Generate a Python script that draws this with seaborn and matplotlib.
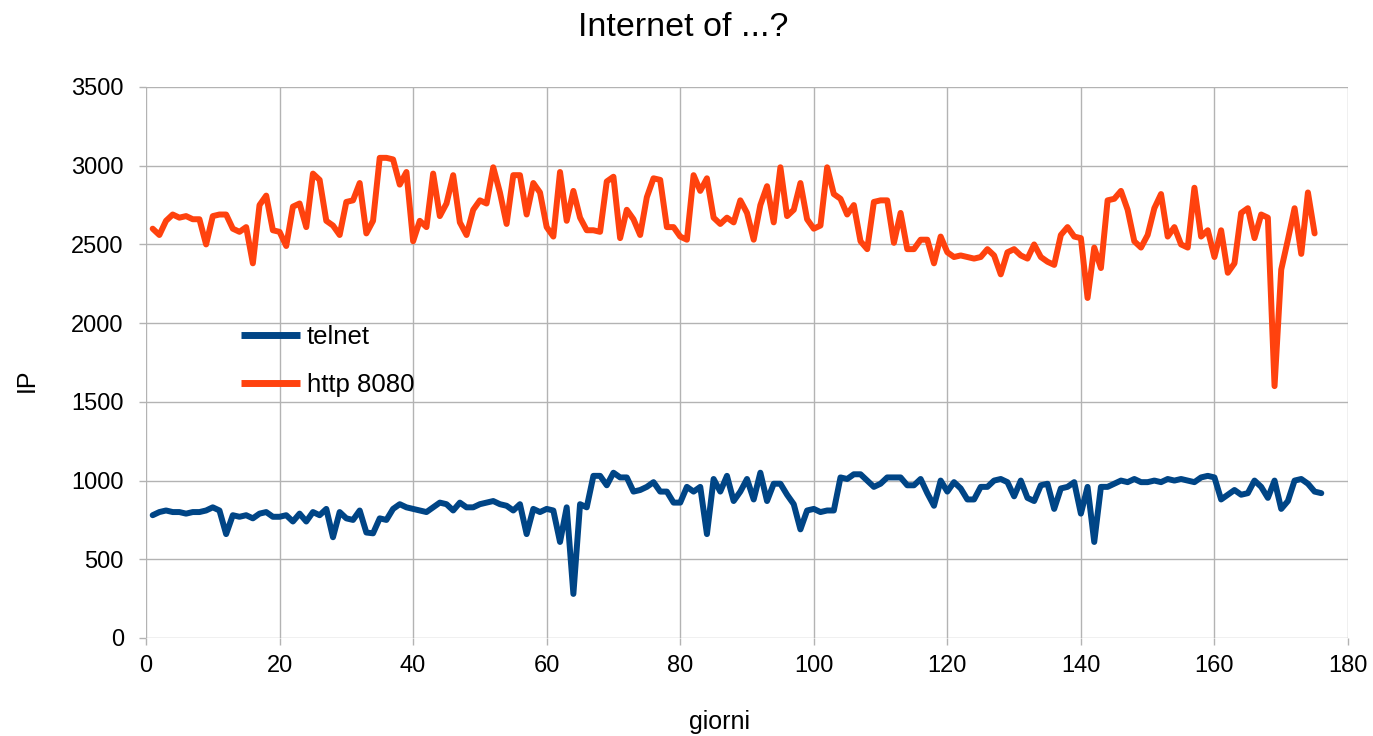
import numpy as np
import pandas as pd
import matplotlib
matplotlib.use("Agg")
import matplotlib.pyplot as plt
import seaborn as sns

# ---- data ----
http_8080 = [2600, 2560, 2650, 2690, 2670, 2680, 2660, 2660, 2500, 2680,
             2690, 2690, 2600, 2580, 2610, 2380, 2750, 2810, 2590, 2580,
             2490, 2740, 2760, 2610, 2950, 2910, 2650, 2620, 2560, 2770,
             2780, 2890, 2570, 2650, 3050, 3050, 3040, 2880, 2960, 2520,
             2650, 2610, 2950, 2680, 2760, 2940, 2640, 2560, 2720, 2780,
             2760, 2990, 2830, 2630, 2940, 2940, 2690, 2890, 2830, 2610,
             2550, 2960, 2650, 2840, 2670, 2590, 2590, 2580, 2900, 2930,
             2540, 2720, 2660, 2560, 2800, 2920, 2910, 2610, 2610, 2550,
             2530, 2940, 2840, 2920, 2670, 2630, 2670, 2640, 2780, 2700,
             2530, 2750, 2870, 2640, 2990, 2680, 2720, 2890, 2660, 2600,
             2620, 2990, 2820, 2790, 2690, 2750, 2520, 2470, 2770, 2780,
             2780, 2510, 2700, 2470, 2470, 2530, 2530, 2380, 2550, 2450,
             2420, 2430, 2420, 2410, 2420, 2470, 2430, 2310, 2450, 2470,
             2430, 2410, 2500, 2420, 2390, 2370, 2560, 2610, 2550, 2540,
             2160, 2480, 2350, 2780, 2790, 2840, 2720, 2520, 2480, 2560,
             2730, 2820, 2550, 2610, 2500, 2480, 2860, 2550, 2590, 2420,
             2590, 2320, 2380, 2700, 2730, 2540, 2690, 2670, 1600, 2340,
             2530, 2730, 2440, 2830, 2570]

telnet = [780, 800, 810, 800, 800, 790, 800, 800, 810, 830,
          810, 660, 780, 770, 780, 760, 790, 800, 770, 770,
          780, 740, 790, 740, 800, 780, 820, 640, 800, 760,
          750, 810, 670, 665, 760, 750, 820, 850, 830, 820,
          810, 800, 830, 860, 850, 810, 860, 830, 830, 850,
          860, 870, 850, 840, 810, 850, 660, 820, 800, 820,
          810, 610, 830, 280, 850, 830, 1030, 1030, 970, 1050,
          1020, 1020, 930, 940, 960, 990, 930, 930, 860, 860,
          960, 930, 960, 660, 1010, 930, 1030, 870, 930, 1010,
          880, 1050, 870, 980, 980, 910, 850, 690, 810, 820,
          800, 810, 810, 1020, 1010, 1040, 1040, 1000, 960, 980,
          1020, 1020, 1020, 970, 970, 1010, 920, 840, 1000, 930,
          990, 950, 880, 880, 960, 960, 1000, 1010, 990, 900,
          1000, 890, 870, 970, 980, 820, 950, 960, 990, 790,
          960, 610, 960, 960, 980, 1000, 990, 1010, 990, 990,
          1000, 990, 1010, 1000, 1010, 1000, 990, 1020, 1030, 1020,
          880, 910, 940, 910, 920, 1000, 960, 890, 1000, 820,
          870, 1000, 1010, 980, 930, 920]

series_names = ["telnet", "http 8080"]
x_ticks = list(range(0, 181, 20))
y_ticks = list(range(0, 3501, 500))

df = pd.concat([
    pd.DataFrame({"giorni": np.arange(1, len(telnet) + 1), "IP": telnet, "serie": series_names[0]}),
    pd.DataFrame({"giorni": np.arange(1, len(http_8080) + 1), "IP": http_8080, "serie": series_names[1]}),
], ignore_index=True)

sns.set_theme(style="white")
plt.rcParams["font.family"] = ["Liberation Sans", "DejaVu Sans"]
plt.rcParams["text.color"] = "black"
plt.rcParams["axes.labelcolor"] = "black"

W, H = 1373, 736
fig = plt.figure(figsize=(W / 100, H / 100), dpi=100)
ax = fig.add_axes([146 / W, 1 - 638 / H, (1348 - 146) / W, (638 - 87) / H])

palette = {"telnet": "#004586", "http 8080": "#ff420e"}
sns.lineplot(data=df, x="giorni", y="IP", hue="serie", hue_order=series_names,
             palette=palette, linewidth=4.3, ax=ax, legend=True)

ax.set_xlim(0, 180)
ax.set_ylim(0, 3500)
ax.set_xticks(x_ticks)
ax.set_yticks(y_ticks)
ax.grid(True, color="#b3b3b3", linewidth=1.0)
ax.set_axisbelow(True)
for s in ax.spines.values():
    s.set_visible(False)
ax.tick_params(axis="both", which="major", length=5, width=1, color="#b3b3b3",
               labelsize=17, labelcolor="black", direction="out",
               bottom=True, left=True)
ax.tick_params(axis="y", pad=11)
ax.tick_params(axis="x", pad=7)

ax.set_xlabel("")
ax.set_ylabel("")
fig.text(720 / W, 1 - 722 / H, "giorni", fontsize=18, ha="center", va="center")
fig.text(27 / W, 1 - 380 / H, "IP", fontsize=18, ha="center", va="center", rotation=90)
fig.text(683 / W, 1 - 28 / H, "Internet of ...?", fontsize=24.5, ha="center", va="center")

leg = ax.legend(loc="upper left", bbox_to_anchor=(0.06, 0.61), frameon=False,
                fontsize=18.5, handlelength=2.3, handletextpad=0.25, labelspacing=0.95)
for line in leg.get_lines():
    line.set_linewidth(5)
    line.set_solid_capstyle("butt")

fig.savefig("out.png", dpi=100)
